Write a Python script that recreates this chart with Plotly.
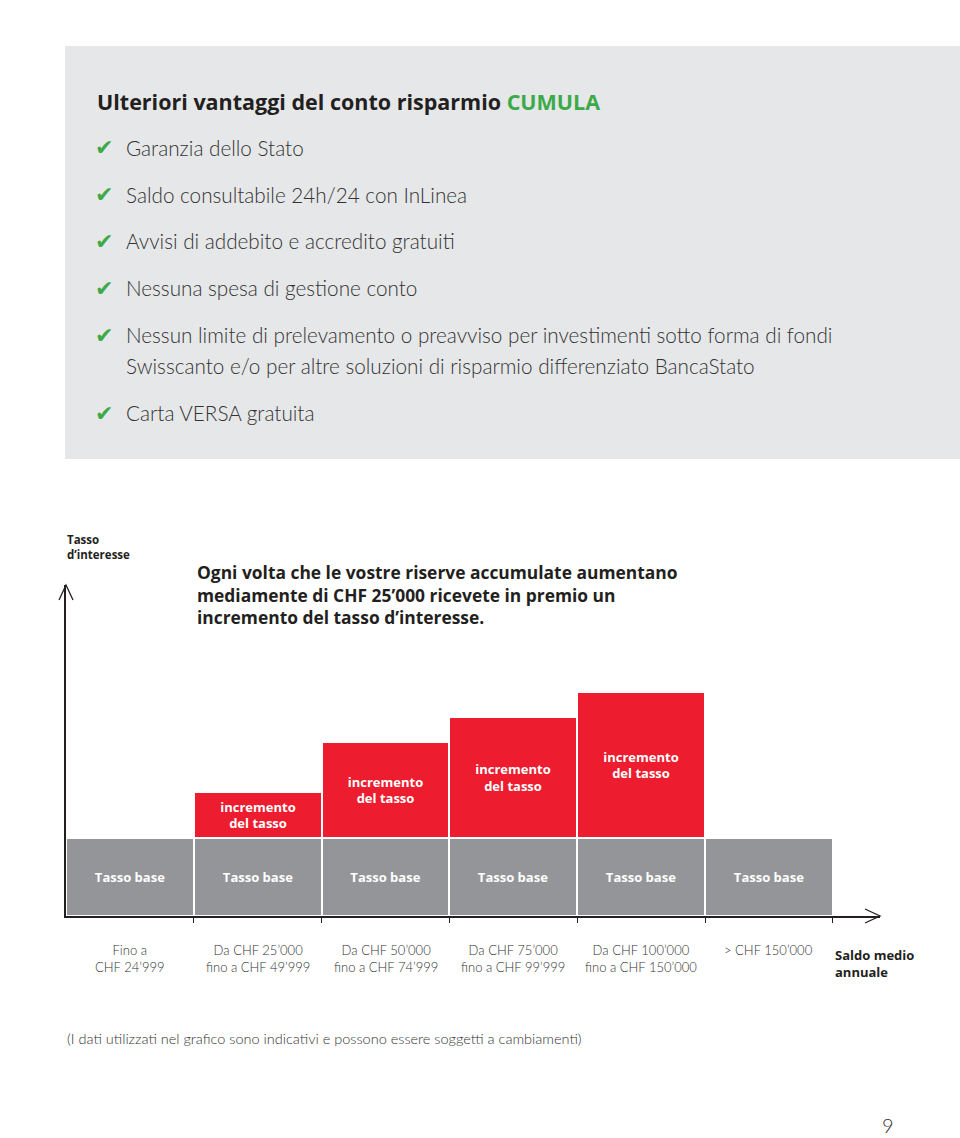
import plotly.graph_objects as go

# ---------------- data ----------------
range_labels = [
    "Fino a<br>CHF 24’999",
    "Da CHF 25’000<br>fino a CHF 49’999",
    "Da CHF 50’000<br>fino a CHF 74’999",
    "Da CHF 75’000<br>fino a CHF 99’999",
    "Da CHF 100’000<br>fino a CHF 150’000",
    "> CHF 150’000",
]
base_rate = [1.56, 1.56, 1.56, 1.56, 1.56, 1.56]
rate_increment = [0, 0.92, 1.92, 2.42, 2.92, 0]
base_label = "Tasso base"
increment_label = "incremento<br>del tasso"

benefits = [
    ["Garanzia dello Stato"],
    ["Saldo consultabile 24h/24 con InLinea"],
    ["Avvisi di addebito e accredito gratuiti"],
    ["Nessuna spesa di gestione conto"],
    ["Nessun limite di prelevamento o preavviso per investimenti sotto forma di fondi",
     "Swisscanto e/o per altre soluzioni di risparmio differenziato BancaStato"],
    ["Carta VERSA gratuita"],
]

# ---------------- style ----------------
W, H = 960, 1138
ML, MR, MT, MB = 66, 80, 585, 222
PW, PH = W - ML - MR, H - MT - MB
GRAY_BAR = "#939598"
RED = "#ed1c2e"
GREEN = "#3daa49"
TEXT = "#231f20"
PANEL = "#e6e7e8"
FONT = "Lato"
BOLD = "Open Sans"


def px(x):
    return (x - ML) / PW


def py(y):
    return (H - MB - y) / PH


xs = list(range(len(range_labels)))

fig = go.Figure()
fig.add_bar(
    x=xs, y=base_rate, width=1,
    marker=dict(color=GRAY_BAR, line=dict(color="white", width=2)),
    text=[f"<b>{base_label}</b>"] * len(xs),
    textposition="inside", insidetextanchor="middle",
    textfont=dict(color="white", size=13, family=BOLD),
    hoverinfo="skip",
)
fig.add_bar(
    x=xs, y=rate_increment, width=1,
    marker=dict(color=RED, line=dict(color="white", width=2)),
    text=[f"<b>{increment_label}</b>" if v > 0 else "" for v in rate_increment],
    textposition="inside", insidetextanchor="middle",
    textfont=dict(color="white", size=13, family=BOLD),
    hoverinfo="skip",
)

shapes = []
annotations = []

# grey panel
shapes.append(dict(type="rect", xref="paper", yref="paper",
                   x0=px(65), x1=px(960), y0=py(459), y1=py(46),
                   fillcolor=PANEL, line=dict(width=0), layer="below"))

# axis arrow heads
shapes.append(dict(type="path", xref="paper", yref="paper", xsizemode="pixel", ysizemode="pixel",
                   xanchor=0, yanchor=1,
                   path="M -7,-15 L 0,0 L 7,-15",
                   line=dict(color=TEXT, width=1.3)))
shapes.append(dict(type="path", xref="paper", yref="paper", xsizemode="pixel", ysizemode="pixel",
                   xanchor=1, yanchor=0,
                   path="M -15,7 L 0,0 L -15,-7",
                   line=dict(color=TEXT, width=1.3)))

# title
annotations.append(dict(
    xref="paper", yref="paper", x=px(95), y=py(101), xanchor="left", yanchor="middle",
    text=f"<b>Ulteriori vantaggi del conto risparmio <span style='color:{GREEN}'>CUMULA</span></b>",
    showarrow=False, font=dict(family=BOLD, size=21.5, color=TEXT)))

benefit_y = [148, 195, 241, 288, 335, 413]
for lines, y0 in zip(benefits, benefit_y):
    annotations.append(dict(
        xref="paper", yref="paper", x=px(93), y=py(y0), xanchor="left", yanchor="middle",
        text="✔", showarrow=False, font=dict(family="DejaVu Sans", size=22, color=GREEN)))
    for k, line in enumerate(lines):
        annotations.append(dict(
            xref="paper", yref="paper", x=px(124), y=py(y0 + 31 * k), xanchor="left", yanchor="middle",
            text=line, showarrow=False,
            font=dict(family=FONT, size=20.7, color="#333333", weight=300)))

# chart texts
annotations.append(dict(
    xref="paper", yref="paper", x=px(65), y=py(530), xanchor="left", yanchor="top",
    text="<b>Tasso<br>d’interesse</b>", align="left", showarrow=False,
    font=dict(family=BOLD, size=11.5, color=TEXT)))
annotations.append(dict(
    xref="paper", yref="paper", x=px(195), y=py(558), xanchor="left", yanchor="top",
    text="<b>Ogni volta che le vostre riserve accumulate aumentano<br>"
         "mediamente di CHF 25’000 ricevete in premio un<br>"
         "incremento del tasso d’interesse.</b>",
    align="left", showarrow=False,
    font=dict(family=BOLD, size=17.4, color=TEXT)))

for x, lab in zip(xs, range_labels):
    annotations.append(dict(
        xref="x", yref="paper", x=x, y=py(940), xanchor="center", yanchor="top",
        text=lab, align="center", showarrow=False,
        font=dict(family=FONT, size=13, color="#333333", weight=300)))

annotations.append(dict(
    xref="paper", yref="paper", x=px(833), y=py(944), xanchor="left", yanchor="top",
    text="<b>Saldo medio<br>annuale</b>", align="left", showarrow=False,
    font=dict(family=BOLD, size=13, color=TEXT)))

annotations.append(dict(
    xref="paper", yref="paper", x=px(65), y=py(1038), xanchor="left", yanchor="middle",
    text="(I dati utilizzati nel grafico sono indicativi e possono essere soggetti a cambiamenti)",
    showarrow=False, font=dict(family=FONT, size=14.5, color="#333333", weight=300)))

annotations.append(dict(
    xref="paper", yref="paper", x=px(888), y=py(1125), xanchor="center", yanchor="middle",
    text="9", showarrow=False, font=dict(family=FONT, size=20, color="#333333", weight=300)))

fig.update_layout(
    width=W, height=H, margin=dict(l=ML, r=MR, t=MT, b=MB, pad=0),
    paper_bgcolor="white", plot_bgcolor="white",
    barmode="stack", bargap=0, showlegend=False,
    shapes=shapes, annotations=annotations,
    xaxis=dict(range=[-0.5, 5.869], showgrid=False, zeroline=False,
               showline=True, linecolor=TEXT, linewidth=1.5,
               tickvals=[0.5, 1.5, 2.5, 3.5, 4.5, 5.5], ticks="outside", ticklen=5,
               tickcolor=TEXT, tickwidth=1.3, showticklabels=False, fixedrange=True),
    yaxis=dict(range=[0, 6.62], showgrid=False, zeroline=False,
               showline=True, linecolor=TEXT, linewidth=1.5,
               showticklabels=False, ticks="", fixedrange=True),
)

fig.write_html(
    "out.html",
    config={"displayModeBar": False},
    post_script="document.body.style.margin='0px';document.body.style.overflow='hidden';",
)
